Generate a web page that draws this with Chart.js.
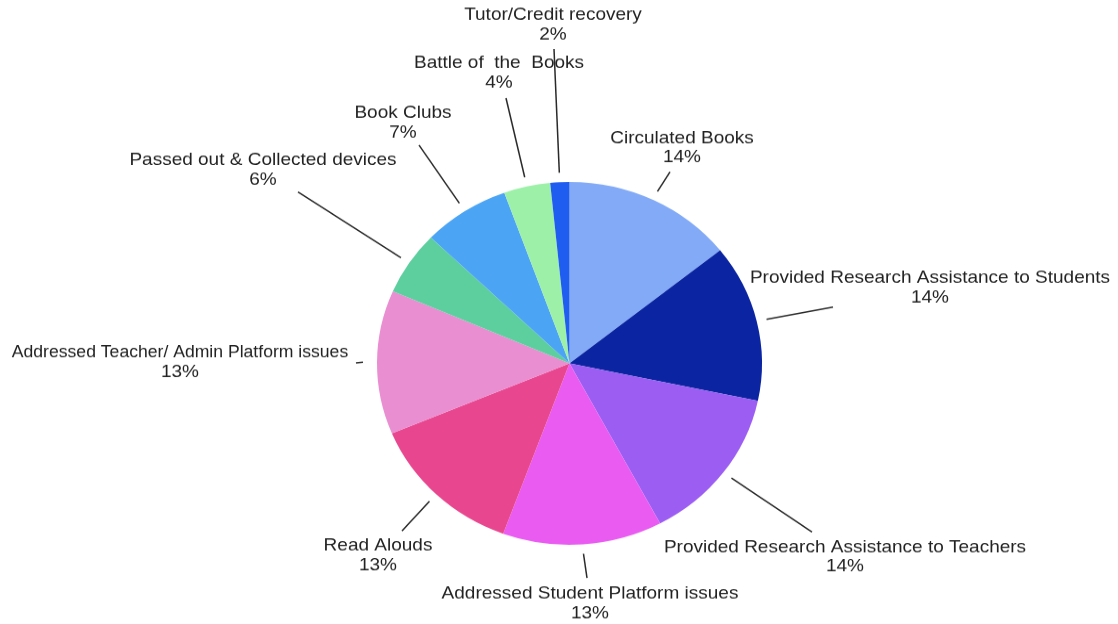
<!DOCTYPE html>
<html>
<head>
<meta charset="utf-8">
<script src="https://cdn.jsdelivr.net/npm/chart.js@4/dist/chart.umd.min.js"></script>
<style>
  html, body { margin: 0; padding: 0; background: #fff; overflow: hidden; }
  /* the original picture is a bit squashed vertically, so draw taller and scale down */
  #wrap { width: 1118px; height: 662px; transform: scaleY(0.9426); transform-origin: 0 0; }
</style>
</head>
<body>
<div id="wrap"><canvas id="pie" width="1118" height="662"></canvas></div>
<script>
// data (percent of activities)
const labels = [
  'Circulated Books',
  'Provided Research Assistance to Students',
  'Provided Research Assistance to Teachers',
  'Addressed Student Platform issues',
  'Read Alouds',
  'Addressed Teacher/ Admin Platform issues',
  'Passed out & Collected devices',
  'Book Clubs',
  'Battle of  the  Books',
  'Tutor/Credit recovery'
];
const values = [14.3, 14.0, 13.9, 13.4, 13.1, 12.8, 5.7, 7.3, 3.9, 1.6];
const colors = [
  '#82aaf6', '#0b25a2', '#9c5df3', '#e95bf1', '#e8478f',
  '#ea8ed2', '#5dcf9f', '#4ba4f4', '#9cf0a8', '#1f5cf0'
];

// where each callout sits on screen: end of leader line and centre of the name line
const calloutEnd = [
  [670, 172], [833, 307], [812, 532], [587, 578], [402, 531],
  [356, 363], [298, 192], [419, 145], [506, 98], [554, 49]
];
const calloutText = [
  [682, 138], [930, 278], [845, 547], [590, 594], [378, 546],
  [180, 353], [263, 160], [403, 113], [499, 63], [553, 15]
];
const calloutFont = [19, 19, 19, 19, 19, 17.6, 19, 19, 19, 19];

const SY = 624 / 662;

const callouts = {
  id: 'callouts',
  afterDatasetsDraw(chart) {
    const ctx = chart.ctx;
    const meta = chart.getDatasetMeta(0);
    const total = values.reduce((a, b) => a + b, 0);
    ctx.save();
    ctx.strokeStyle = '#2a2a2a';
    ctx.lineWidth = 1.5;
    ctx.fillStyle = '#222';
    ctx.textAlign = 'center';
    ctx.textBaseline = 'middle';
    meta.data.forEach((arc, i) => {
      const p = arc.getProps(['x', 'y', 'startAngle', 'endAngle', 'outerRadius'], true);
      const mid = (p.startAngle + p.endAngle) / 2;
      const r = p.outerRadius + (i === 5 ? 14 : 10);
      ctx.beginPath();
      ctx.moveTo(p.x + Math.cos(mid) * r, p.y + Math.sin(mid) * r);
      ctx.lineTo(calloutEnd[i][0], calloutEnd[i][1] / SY);
      ctx.stroke();
      const tx = calloutText[i][0];
      const ty = calloutText[i][1] / SY;
      ctx.font = calloutFont[i] + 'px "Liberation Sans", Arial, sans-serif';
      ctx.fillText(labels[i], tx, ty);
      ctx.font = '19px "Liberation Sans", Arial, sans-serif';
      ctx.fillText(Math.round(values[i] / total * 100) + '%', tx, ty + 20.7);
    });
    ctx.restore();
  }
};

new Chart(document.getElementById('pie').getContext('2d'), {
  type: 'pie',
  data: {
    labels: labels,
    datasets: [{
      data: values,
      backgroundColor: colors,
      borderWidth: 0
    }]
  },
  options: {
    responsive: false,
    animation: false,
    devicePixelRatio: 1,
    layout: { padding: { left: 377, right: 356, top: 193, bottom: 84 } },
    plugins: {
      legend: { display: false },
      tooltip: { enabled: false }
    }
  },
  plugins: [callouts]
});
</script>
</body>
</html>
